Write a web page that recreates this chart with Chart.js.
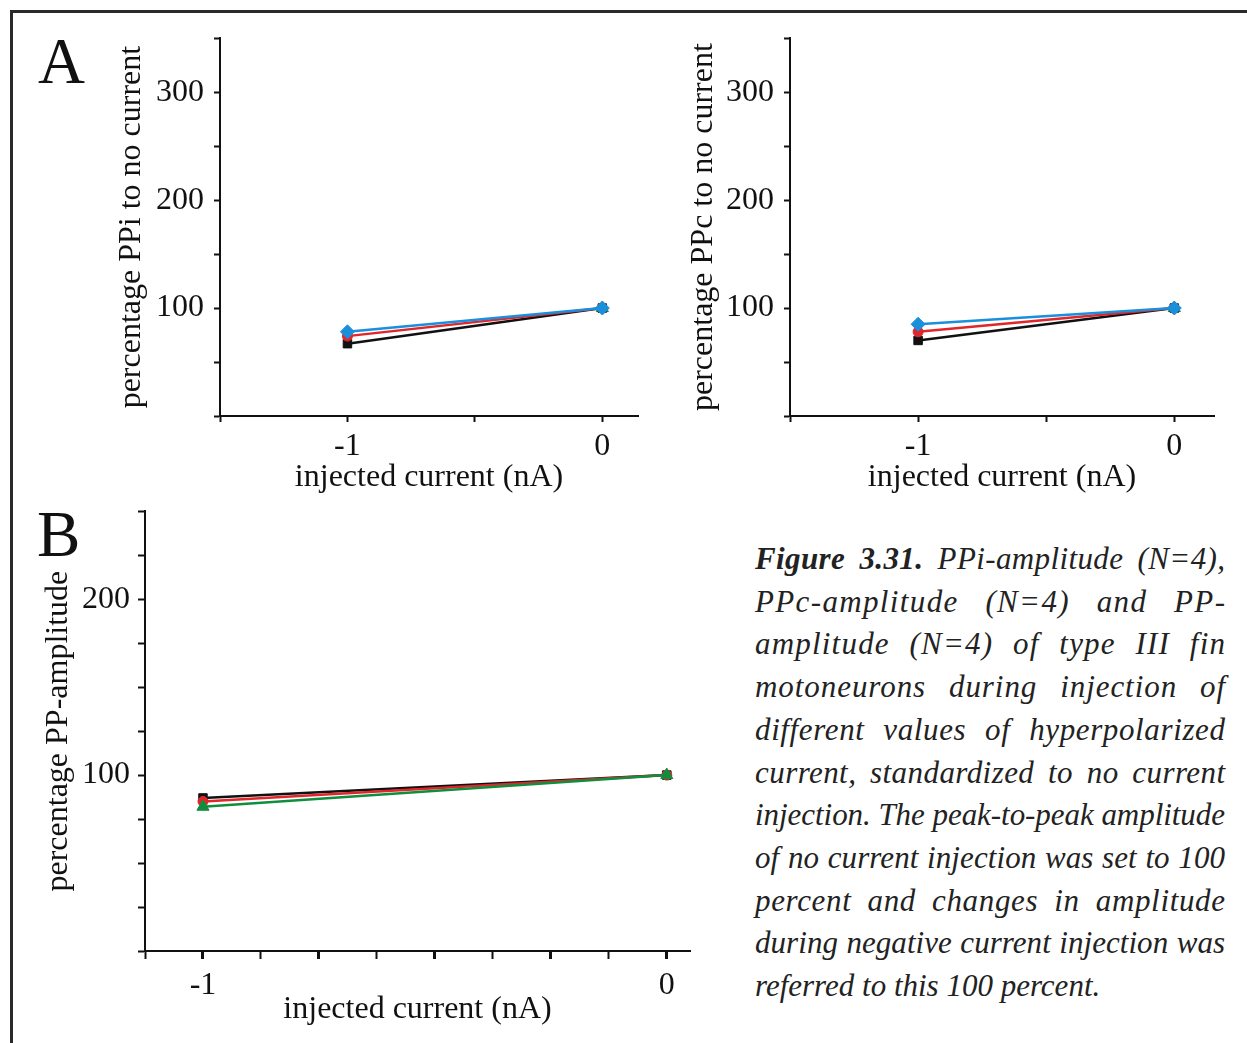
<!DOCTYPE html>
<html>
<head>
<meta charset="utf-8">
<title>Figure 3.31</title>
<script src="https://cdn.jsdelivr.net/npm/chart.js@4/dist/chart.umd.min.js"></script>
<style>
  html, body { margin: 0; padding: 0; background: #fff; width: 1247px; height: 1043px; overflow: hidden; }
  .frame { position: absolute; left: 10px; top: 10px; width: 1300px; height: 1100px;
           border-top: 3px solid #2a2a2a; border-left: 3px solid #2a2a2a; }
  canvas { position: absolute; }
  .letter { position: absolute; font-family: 'Liberation Serif', 'Times New Roman', serif;
            font-size: 65px; line-height: 65px; color: #111; }
  .caption { position: absolute; left: 755px; top: 538px; width: 470px;
             font-family: 'Liberation Serif', 'Times New Roman', serif; font-style: italic;
             font-size: 31px; line-height: 42.7px; color: #222; }
  .caption .jl { white-space: nowrap; }
</style>
</head>
<body>
<div class="frame"></div>
<div class="letter" style="left:38px; top:29px;">A</div>
<div class="letter" style="left:37px; top:502px;">B</div>

<canvas id="ppi" width="538" height="488" style="left:112px; top:9px;"></canvas>
<canvas id="ppc" width="542" height="488" style="left:684px; top:9px;"></canvas>
<canvas id="pp" width="663" height="545" style="left:39px; top:484px;"></canvas>

<div class="caption">
  <div class="jl"><span><b>Figure 3.31.</b> PPi-amplitude (N=4),</span></div>
  <div class="jl"><span>PPc-amplitude (N=4) and PP-</span></div>
  <div class="jl"><span>amplitude (N=4) of type III fin</span></div>
  <div class="jl"><span>motoneurons during injection of</span></div>
  <div class="jl"><span>different values of hyperpolarized</span></div>
  <div class="jl"><span>current, standardized to no current</span></div>
  <div class="jl"><span>injection. The peak-to-peak amplitude</span></div>
  <div class="jl"><span>of no current injection was set to 100</span></div>
  <div class="jl"><span>percent and changes in amplitude</span></div>
  <div class="jl"><span>during negative current injection was</span></div>
  <div><span>referred to this 100 percent.</span></div>
</div>

<script>
// Injected current steps (nA)
const currents = [-1, 0];

// PPi amplitude, percent of the no-current value, one array per cell
const ppiSquare   = [67, 100];
const ppiCircle   = [74, 100];
const ppiDiamond  = [78, 100];
const ppiTriangle = [null, 100];

// PPc amplitude, percent of the no-current value
const ppcSquare   = [70, 100];
const ppcCircle   = [78, 100];
const ppcDiamond  = [85, 100];
const ppcTriangle = [null, 100];

// PP amplitude, percent of the no-current value
const ppSquare   = [87, 100];
const ppCircle   = [85, 100];
const ppTriangle = [82, 100];

// Labelled tick values
const xLabelTicks  = [-1, 0];
const yLabelTicksA = [100, 200, 300];
const yLabelTicksB = [100, 200];

const SERIF = "'Liberation Serif', 'Times New Roman', serif";
const FONT_SIZE = 32;
const INK = '#111111';
const COLORS = { black: '#111111', red: '#e0262b', blue: '#1a8fdc', green: '#0f8e3e' };

function series(values, color, style, radius) {
  return {
    data: currents.map((x, i) => ({ x: x, y: values[i] })),
    borderColor: color,
    backgroundColor: color,
    borderWidth: 2.5,
    pointStyle: style,
    pointRadius: radius,
    pointBorderWidth: 1,
    pointBorderColor: color,
    pointBackgroundColor: color,
    tension: 0,
    spanGaps: false
  };
}

function axisCommon(tickLen, pad) {
  return {
    border: { display: true, color: INK, width: 2 },
    grid: { drawOnChartArea: false, drawTicks: true, tickLength: tickLen, tickWidth: 2, tickColor: INK },
    ticks: { color: INK, font: { family: SERIF, size: FONT_SIZE }, padding: pad, autoSkip: false, includeBounds: false }
  };
}

function makeChart(id, opts) {
  const xAxis = axisCommon(opts.xTickLen, opts.xPad);
  Object.assign(xAxis, {
    type: 'linear', min: opts.xMin, max: opts.xMax,
    title: { display: true, text: 'injected current (nA)', color: INK,
             font: { family: SERIF, size: FONT_SIZE }, padding: 0 },
    afterFit(s) { s.height = opts.xHeight; }
  });
  xAxis.ticks.stepSize = opts.xStep;
  xAxis.ticks.callback = v => (xLabelTicks.includes(v) ? String(v) : '');
  if (opts.xTickWidth) xAxis.grid.tickWidth = opts.xTickWidth;

  const yAxis = axisCommon(opts.yTickLen, opts.yPad);
  Object.assign(yAxis, {
    type: 'linear', min: 0, max: opts.yMax,
    title: { display: true, text: opts.yTitle, color: INK,
             font: { family: SERIF, size: FONT_SIZE }, padding: 0 },
    afterFit(s) { s.width = opts.yWidth; }
  });
  yAxis.ticks.stepSize = opts.yStep;
  yAxis.ticks.callback = v => (opts.yLabels.includes(v) ? String(v) : '');

  return new Chart(document.getElementById(id), {
    type: 'line',
    data: { datasets: opts.datasets },
    options: {
      responsive: false,
      devicePixelRatio: 1,
      animation: false,
      layout: { padding: { top: 10, right: 12, left: 0, bottom: 0 } },
      plugins: { legend: { display: false }, tooltip: { enabled: false } },
      scales: { x: xAxis, y: yAxis }
    }
  });
}

makeChart('ppi', {
  xMin: -1.5, xMax: 0.14, xStep: 0.5, xTickLen: 6, xPad: 5, xHeight: 81,
  yMax: 350, yStep: 50, yTickLen: 6, yPad: 10, yWidth: 108, yLabels: yLabelTicksA,
  yTitle: 'percentage PPi to no current',
  datasets: [
    series(ppiDiamond, COLORS.blue, 'rectRot', 7),
    series(ppiCircle, COLORS.red, 'circle', 5),
    series(ppiSquare, COLORS.black, 'rect', 6),
    series(ppiTriangle, COLORS.green, 'triangle', 7)
  ]
});

makeChart('ppc', {
  xMin: -1.5, xMax: 0.155, xStep: 0.5, xTickLen: 6, xPad: 5, xHeight: 81,
  yMax: 350, yStep: 50, yTickLen: 6, yPad: 10, yWidth: 106, yLabels: yLabelTicksA,
  yTitle: 'percentage PPc to no current',
  datasets: [
    series(ppcDiamond, COLORS.blue, 'rectRot', 7),
    series(ppcCircle, COLORS.red, 'circle', 5),
    series(ppcSquare, COLORS.black, 'rect', 6),
    series(ppcTriangle, COLORS.green, 'triangle', 7)
  ]
});

makeChart('pp', {
  xMin: -1.125, xMax: 0.05, xStep: 0.125, xTickLen: 8, xPad: 7, xHeight: 78,
  xTickWidth: ctx => (ctx.tick && Math.abs(ctx.tick.value * 4 - Math.round(ctx.tick.value * 4)) < 1e-6 ? 3 : 2),
  yMax: 250, yStep: 25, yTickLen: 7, yPad: 8, yWidth: 106, yLabels: yLabelTicksB,
  yTitle: 'percentage PP-amplitude',
  datasets: [
    series(ppTriangle, COLORS.green, 'triangle', 7),
    series(ppCircle, COLORS.red, 'circle', 5),
    series(ppSquare, COLORS.black, 'rect', 6)
  ]
});

// Justify each caption line to the column width
function justifyCaption() {
  const target = 470;
  document.querySelectorAll('.caption .jl > span').forEach(span => {
    span.style.letterSpacing = '0px';
    span.style.wordSpacing = '0px';
    const w = span.getBoundingClientRect().width;
    const text = span.textContent;
    const n = text.length;
    const spaces = (text.match(/ /g) || []).length;
    const extra = target - w;
    if (extra >= 0) {
      span.style.letterSpacing = (extra * 0.4 / (n - 1)) + 'px';
      span.style.wordSpacing = (spaces ? extra * 0.6 / spaces : 0) + 'px';
    } else {
      span.style.letterSpacing = (extra / (n - 1)) + 'px';
    }
  });
}
justifyCaption();
if (document.fonts && document.fonts.ready) document.fonts.ready.then(justifyCaption);
</script>
</body>
</html>
